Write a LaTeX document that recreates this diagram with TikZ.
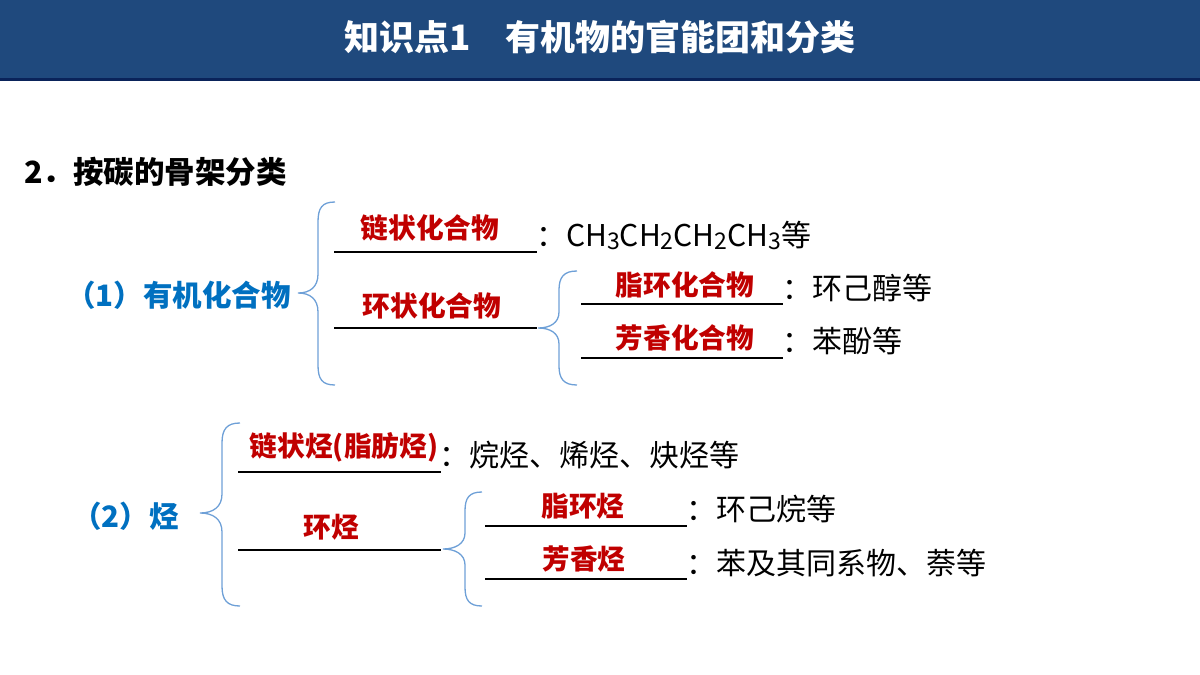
\documentclass[tikz,border=0pt]{standalone}
\usepackage{fontspec}
\setmainfont{Noto Sans CJK SC}
\definecolor{hdr}{RGB}{31,73,125}
\definecolor{hdrline}{RGB}{10,35,90}
\definecolor{bluetxt}{RGB}{0,112,192}
\definecolor{redtxt}{RGB}{192,0,0}
\definecolor{bracecol}{RGB}{110,160,215}
\newcommand\subd[1]{\raisebox{-0.1em}{\fontsize{23}{23}\selectfont #1}}
\tikzset{
  redlabel/.style={inner sep=0pt, text=redtxt, font=\fontsize{27.7}{32}\selectfont\bfseries},
  bodytext/.style={inner sep=0pt, anchor=west, text=black, font=\fontsize{30}{35}\selectfont},
  bluehead/.style={inner sep=0pt, anchor=east, text=bluetxt, font=\fontsize{29.5}{34}\selectfont\bfseries},
  uline/.style={line width=2pt, black},
  bracepath/.style={draw=bracecol, line width=1.3pt}
}
\begin{document}
\begin{tikzpicture}[x=1pt,y=-1pt]
\path[use as bounding box] (0,0) rectangle (1200,675);
% header
\fill[hdr] (0,0) rectangle (1200,78);
\fill[hdrline] (0,78) rectangle (1200,80.5);
\node[inner sep=0pt, text=white, font=\fontsize{35}{40}\selectfont\bfseries] (title) at (600,37) {知识点1\hspace{1em}有机物的官能团和分类};
\node[inner sep=0pt, anchor=west, font=\fontsize{30.5}{35}\selectfont\bfseries] (sub) at (24,172) {2．按碳的骨架分类};

% section 1
\node[bluehead] (s1) at (291,295) {（1）有机化合物};
\draw[bracepath] (335,202) .. controls (322,202) and (318,208) .. (318,222) -- (318,274) .. controls (318,287) and (310,293) .. (298,293) .. controls (310,293) and (318,299) .. (318,312) -- (318,365) .. controls (318,379) and (322,385) .. (335,385);
\coordinate (l1a) at (334,252); \coordinate (l1b) at (537,252);
\draw[uline] (l1a) -- (l1b);
\node[redlabel] (chain1) at (430,228) {链状化合物};
\node[bodytext] (ex1) at (536,235) {：CH\subd{3}CH\subd{2}CH\subd{2}CH\subd{3}等};
\coordinate (l2a) at (334,328); \coordinate (l2b) at (537,328);
\draw[uline] (l2a) -- (l2b);
\node[redlabel] (ring1) at (432,306) {环状化合物};
\draw[bracepath] (577,271) .. controls (564,271) and (559,277) .. (559,290) -- (559,312) .. controls (559,323) and (550,328) .. (538,328) .. controls (550,328) and (559,333) .. (559,344) -- (559,366) .. controls (559,379) and (564,385) .. (577,385);
\coordinate (l3a) at (581,304); \coordinate (l3b) at (783,304);
\draw[uline] (l3a) -- (l3b);
\node[redlabel] (ali1) at (685,285) {脂环化合物};
\node[bodytext] (ex3) at (782,288) {：环己醇等};
\coordinate (l4a) at (581,358); \coordinate (l4b) at (783,358);
\draw[uline] (l4a) -- (l4b);
\node[redlabel] (aro1) at (685,338) {芳香化合物};
\node[bodytext] (ex4) at (782,341) {：苯酚等};

% section 2
\node[bluehead] (s2) at (179,516) {（2）烃};
\draw[bracepath] (240,423) .. controls (227,423) and (222,429) .. (222,443) -- (222,494) .. controls (222,507) and (213,513) .. (200,513) .. controls (213,513) and (222,519) .. (222,532) -- (222,586) .. controls (222,600) and (227,606) .. (240,606);
\coordinate (l5a) at (238,472); \coordinate (l5b) at (441,472);
\draw[uline] (l5a) -- (l5b);
\node[redlabel] (chain2) at (344,447) {链状烃(脂肪烃)};
\node[bodytext] (ex5) at (439,455) {：烷烃、烯烃、炔烃等};
\coordinate (l6a) at (238,550); \coordinate (l6b) at (441,550);
\draw[uline] (l6a) -- (l6b);
\node[redlabel] (ring2) at (331,527) {环烃};
\draw[bracepath] (482,492) .. controls (469,492) and (465,498) .. (465,511) -- (465,533) .. controls (465,544) and (455,549) .. (443,549) .. controls (455,549) and (465,554) .. (465,565) -- (465,587) .. controls (465,600) and (469,606) .. (482,606);
\coordinate (l7a) at (485,526); \coordinate (l7b) at (687,526);
\draw[uline] (l7a) -- (l7b);
\node[redlabel] (ali2) at (583,506) {脂环烃};
\node[bodytext] (ex7) at (686,509) {：环己烷等};
\coordinate (l8a) at (485,579); \coordinate (l8b) at (687,579);
\draw[uline] (l8a) -- (l8b);
\node[redlabel] (aro2) at (584,559) {芳香烃};
\node[bodytext] (ex8) at (686,563) {：苯及其同系物、萘等};
\end{tikzpicture}
\end{document}
